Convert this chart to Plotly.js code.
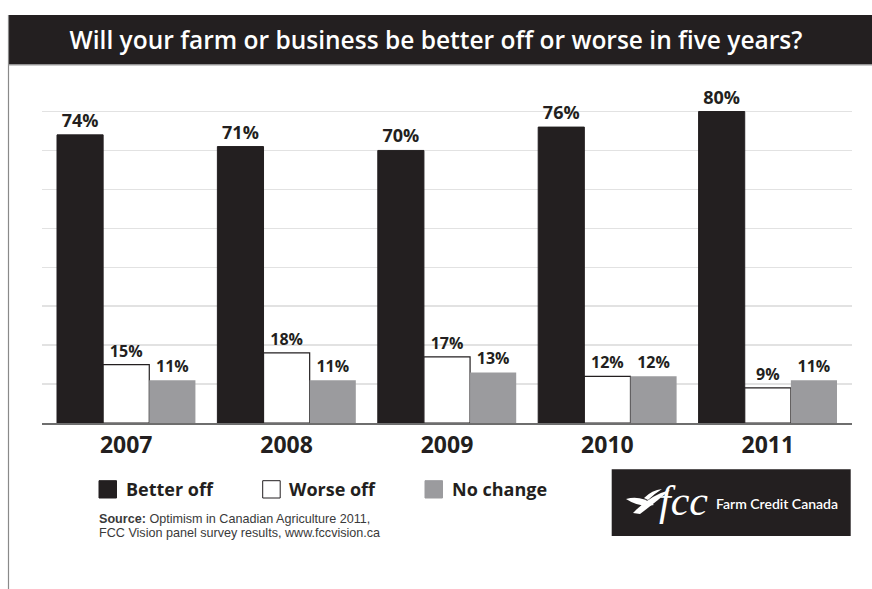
<!DOCTYPE html>
<html>
<head>
<meta charset="utf-8">
<script src="https://cdn.plot.ly/plotly-3.0.1.min.js"></script>
<style>html,body{margin:0;padding:0;background:#fff;}#chart{width:872px;height:589px;}</style>
</head>
<body>
<div id="chart"></div>
<script>
// ---- data ----
const years = ['2007', '2008', '2009', '2010', '2011'];
const betterOff = [74, 71, 70, 76, 80];
const worseOff = [15, 18, 17, 12, 9];
const noChange = [11, 11, 13, 12, 11];
const seriesNames = ['Better off', 'Worse off', 'No change'];
const gridVals = [10, 20, 30, 40, 50, 60, 70, 80];
const titleText = 'Will your farm or business be better off or worse in five years?';
const sourceLines = ['<b>Source:</b> Optimism in Canadian Agriculture 2011,',
                     'FCC Vision panel survey results, www.fccvision.ca'];
const logoText = 'Farm Credit Canada';

// ---- layout geometry (pixels) ----
const W = 872, H = 589;
const M = {l: 42, r: 20, t: 108, b: 166};
const PW = W - M.l - M.r, PH = H - M.t - M.b;
const px = x => (x - M.l) / PW;
const py = y => (H - M.b - y) / PH;

const DARK = '#231f20';
const GRAY = '#9b9b9e';
const FONT = 'Open Sans, DejaVu Sans, sans-serif';

function barTrace(name, vals, fill, lineColor, lineWidth, tsize) {
  return {
    type: 'bar', name: name, x: years, y: vals,
    marker: {color: fill, line: {color: lineColor, width: lineWidth}},
    texttemplate: '%{y}%', textposition: 'outside', cliponaxis: false,
    constraintext: 'none',
    textfont: {family: FONT, size: tsize, color: DARK, weight: 700},
    hoverinfo: 'skip'
  };
}

const data = [
  barTrace(seriesNames[0], betterOff, DARK, DARK, 1, 18),
  barTrace(seriesNames[1], worseOff, '#ffffff', DARK, 1.2, 16),
  barTrace(seriesNames[2], noChange, GRAY, GRAY, 0, 16)
];

function pathFromPx(pts) {
  return pts.map(p => {
    const c = p[0]; const nums = [];
    for (let i = 1; i < p.length; i += 2) nums.push(px(p[i]).toFixed(5) + ',' + py(p[i + 1]).toFixed(5));
    return c + nums.join(' ');
  }).join(' ') + ' Z';
}

const legendColors = [[DARK, DARK], ['#ffffff', DARK], [GRAY, GRAY]];
const legendSqX = [99, 262.7, 425];
const legendTxtX = [125, 288.3, 451];
const legendY0 = 480.7, legendY1 = 498;

const shapes = [
  {type: 'rect', xref: 'paper', yref: 'paper', x0: px(8), x1: px(872), y0: py(15), y1: py(64.5),
   fillcolor: DARK, line: {width: 0}, layer: 'below'},
  {type: 'line', xref: 'paper', yref: 'paper', x0: px(8.5), x1: px(8.5), y0: py(15), y1: py(589),
   line: {color: '#8a8a8a', width: 1.2}},
  {type: 'line', xref: 'paper', yref: 'paper', x0: px(8.5), x1: px(872), y0: py(65), y1: py(65),
   line: {color: '#9a9a9a', width: 1}},
  {type: 'rect', xref: 'paper', yref: 'paper', x0: px(611.7), x1: px(850.7), y0: py(469.3), y1: py(536),
   fillcolor: DARK, line: {width: 0}},
  {type: 'path', xref: 'paper', yref: 'paper', fillcolor: '#ffffff', line: {width: 0},
   path: pathFromPx([['M', 626, 499], ['Q', 641, 495, 654, 505], ['Q', 640, 508, 626, 499]])},
  {type: 'path', xref: 'paper', yref: 'paper', fillcolor: '#ffffff', line: {width: 0},
   path: pathFromPx([['M', 633, 513], ['Q', 650, 495, 670, 490], ['Q', 656, 502, 640, 514]])},
  {type: 'path', xref: 'paper', yref: 'paper', fillcolor: '#ffffff', line: {width: 0},
   path: pathFromPx([['M', 644, 498], ['Q', 652, 490, 662, 489], ['Q', 654, 494, 648, 500]])}
];
for (let i = 0; i < 3; i++) {
  shapes.push({type: 'rect', xref: 'paper', yref: 'paper',
    x0: px(legendSqX[i]), x1: px(legendSqX[i] + 17.5), y0: py(legendY1), y1: py(legendY0),
    fillcolor: legendColors[i][0], line: {color: legendColors[i][1], width: 1}});
}

const annotations = [];
for (let i = 0; i < 3; i++) {
  annotations.push({xref: 'paper', yref: 'paper', x: px(legendTxtX[i] - 1), y: py(489),
    xanchor: 'left', yanchor: 'middle', showarrow: false, text: seriesNames[i],
    font: {family: FONT, size: 18, color: DARK, weight: 700}});
}
const sourceY = [518.5, 532.5];
for (let i = 0; i < sourceLines.length; i++) {
  annotations.push({xref: 'paper', yref: 'paper', x: px(97), y: py(sourceY[i]), xanchor: 'left', yanchor: 'middle',
    showarrow: false, align: 'left', text: sourceLines[i],
    font: {family: 'Liberation Sans, Arial, sans-serif', size: 12.6, color: '#3a3a3a'}});
}
annotations.push({xref: 'paper', yref: 'paper', x: px(776.5), y: py(503.5), xanchor: 'center', yanchor: 'middle',
  showarrow: false, text: logoText,
  font: {family: 'Lato, Open Sans, sans-serif', size: 14, color: '#ffffff', weight: 600}});
annotations.push({xref: 'paper', yref: 'paper', x: px(683), y: py(501), xanchor: 'center', yanchor: 'middle',
  showarrow: false, text: 'fcc',
  font: {family: 'Liberation Serif, DejaVu Serif, serif', size: 42, color: '#ffffff', style: 'italic'}});

const layout = {
  width: W, height: H,
  margin: M,
  paper_bgcolor: '#ffffff', plot_bgcolor: '#ffffff',
  showlegend: false,
  barmode: 'group', bargap: 0.137, bargroupgap: 0,
  title: {text: titleText, xref: 'container', yref: 'container', x: 0.5, xanchor: 'center',
    y: 1 - 40.5 / H, yanchor: 'middle',
    font: {family: FONT, size: 24.5, color: '#ffffff', weight: 600}},
  xaxis: {type: 'category', range: [-0.525, 4.525], showgrid: false, zeroline: false,
    showline: true, linecolor: '#6e6e6e', linewidth: 2, ticks: '',
    tickfont: {family: FONT, size: 23, color: DARK, weight: 700}, fixedrange: true},
  yaxis: {range: [0, 80.9], tickvals: gridVals, showticklabels: false,
    showgrid: true, gridcolor: '#e2e2e2',
    gridwidth: 1.5, zeroline: false, showline: false, ticks: '', fixedrange: true},
  shapes: shapes,
  annotations: annotations
};

Plotly.newPlot('chart', data, layout, {staticPlot: true, displayModeBar: false});
</script>
</body>
</html>
